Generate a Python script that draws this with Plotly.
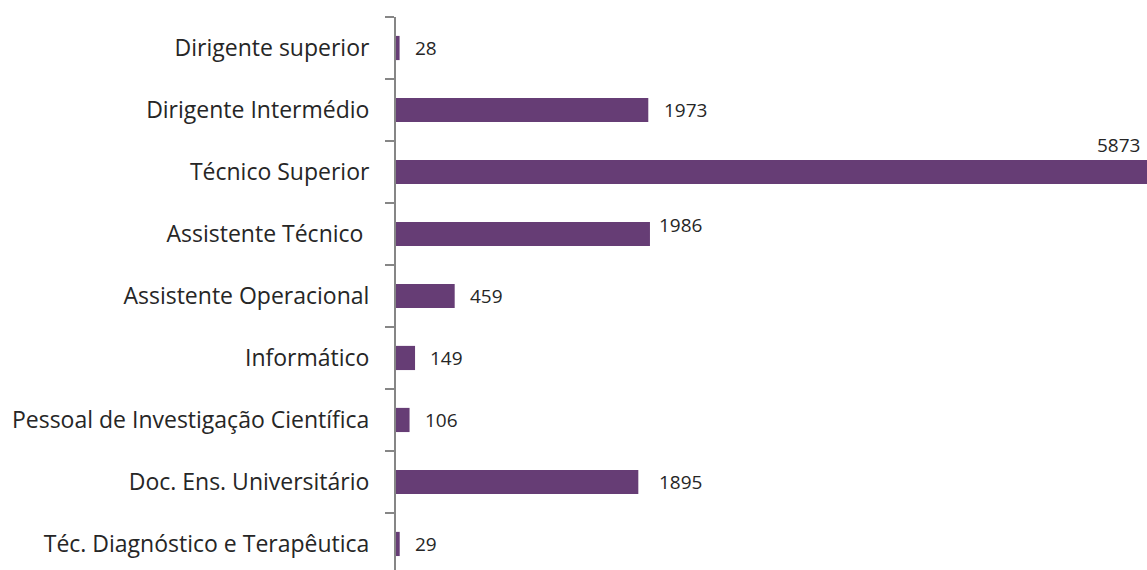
import plotly.graph_objects as go

categories = [
    "Dirigente superior",
    "Dirigente Intermédio",
    "Técnico Superior",
    "Assistente Técnico ",
    "Assistente Operacional",
    "Informático",
    "Pessoal de Investigação Científica",
    "Doc. Ens. Universitário",
    "Téc. Diagnóstico e Terapêutica",
]
values = [28, 1973, 5873, 1986, 459, 149, 106, 1895, 29]

# label offsets (pixels) for value annotations
label_dx = [13, 14, -5, 7, 13, 13, 13, 19, 13]
label_dy = [0, 0, 27, 9, 0, 0, 0, 0, 0]
label_anchor = ["left", "left", "right", "left", "left", "left", "left", "left", "left"]

BAR = "#663D75"
FONT = "Open Sans"

fig = go.Figure(go.Bar(
    x=values, y=categories, orientation="h",
    marker=dict(color=BAR, line=dict(width=0)),
    width=0.39,
))

for c, v, dx, dy, a in zip(categories, values, label_dx, label_dy, label_anchor):
    fig.add_annotation(x=v, y=c, text=str(v), showarrow=False,
                       xanchor=a, yanchor="middle", xshift=dx, yshift=dy,
                       font=dict(family=FONT, size=19, color="#262626"))

fig.update_layout(
    width=1147, height=570,
    margin=dict(l=396, r=0, t=17, b=0),
    paper_bgcolor="white", plot_bgcolor="white",
    showlegend=False,
    font=dict(family=FONT, color="#262626"),
)
fig.update_xaxes(range=[0, 5873], visible=False, showgrid=False, zeroline=False)
fig.update_yaxes(
    type="category",
    range=[8.42, -0.5],
    showline=True, linecolor="#868686", linewidth=2,
    ticks="outside", ticklen=9, tickcolor="#868686", tickwidth=2,
    tickson="boundaries",
    tickfont=dict(family=FONT, size=23, color="#262626"),
    ticklabelstandoff=20,
    showgrid=False, zeroline=False,
)

fig.write_html("out.html", config={"displayModeBar": False},
               post_script="document.body.style.margin='0';document.body.style.overflow='hidden';")
